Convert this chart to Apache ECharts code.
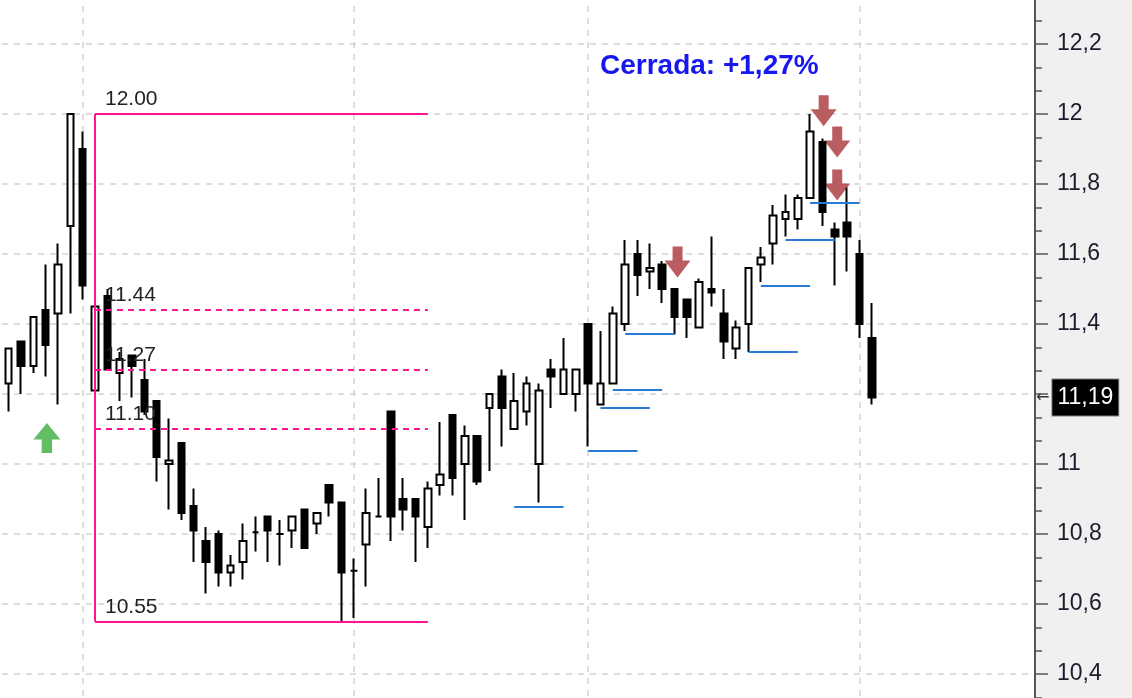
<!DOCTYPE html>
<html>
<head>
<meta charset="utf-8">
<script src="https://cdn.jsdelivr.net/npm/echarts@6/dist/echarts.min.js"></script>
<style>
  html, body { margin: 0; padding: 0; }
  /* zona blanca del gráfico + panel gris del eje */
  #chart { width: 1132px; height: 698px; background: linear-gradient(to right, #fff 0, #fff 1035px, #f0f0f0 1035px); }
</style>
</head>
<body>
<div id="chart"></div>
<script>
// velas diarias (posición = índice de la sesión)
const opens = [11.23, 11.35, 11.28, 11.44, 11.43, 11.68, 11.90, 11.21, 11.48, 11.26,
  11.31, 11.24, 11.18, 11.00, 11.06, 10.88, 10.78, 10.80, 10.69, 10.72,
  10.805, 10.85, 10.80, 10.81, 10.87, 10.83, 10.94, 10.89, 10.695, 10.77,
  10.85, 11.15, 10.90, 10.90, 10.82, 10.94, 11.14, 11.00, 11.08, 11.16,
  11.25, 11.10, 11.15, 11.00, 11.27, 11.20, 11.20, 11.40, 11.17, 11.23,
  11.40, 11.60, 11.55, 11.57, 11.50, 11.47, 11.39, 11.50, 11.43, 11.33,
  11.40, 11.57, 11.63, 11.70, 11.70, 11.76, 11.92, 11.67, 11.69, 11.60,
  11.36];
const closes = [11.33, 11.28, 11.42, 11.34, 11.57, 12.00, 11.51, 11.45, 11.27, 11.30,
  11.28, 11.15, 11.02, 11.01, 10.86, 10.81, 10.72, 10.69, 10.71, 10.78,
  10.805, 10.81, 10.80, 10.85, 10.76, 10.86, 10.89, 10.69, 10.695, 10.86,
  10.85, 10.85, 10.87, 10.85, 10.93, 10.97, 10.96, 11.08, 10.95, 11.20,
  11.16, 11.18, 11.23, 11.21, 11.25, 11.27, 11.27, 11.23, 11.23, 11.43,
  11.57, 11.54, 11.56, 11.50, 11.42, 11.42, 11.52, 11.49, 11.35, 11.39,
  11.56, 11.59, 11.71, 11.72, 11.76, 11.95, 11.72, 11.65, 11.65, 11.40,
  11.19];
const lows = [11.15, 11.20, 11.26, 11.25, 11.17, 11.43, 11.47, 11.21, 11.27, 11.18,
  11.19, 11.14, 10.95, 10.87, 10.84, 10.72, 10.63, 10.65, 10.65, 10.67,
  10.75, 10.72, 10.71, 10.76, 10.76, 10.80, 10.85, 10.55, 10.56, 10.65,
  10.85, 10.78, 10.81, 10.72, 10.76, 10.91, 10.91, 10.84, 10.94, 10.98,
  11.05, 11.10, 11.11, 10.89, 11.16, 11.20, 11.15, 11.05, 11.17, 11.23,
  11.38, 11.48, 11.50, 11.46, 11.37, 11.36, 11.39, 11.45, 11.30, 11.30,
  11.32, 11.52, 11.57, 11.65, 11.67, 11.76, 11.68, 11.51, 11.55, 11.36,
  11.17];
const highs = [11.33, 11.35, 11.42, 11.57, 11.63, 12.00, 11.95, 11.45, 11.50, 11.32,
  11.31, 11.30, 11.18, 11.13, 11.06, 10.93, 10.82, 10.81, 10.74, 10.83,
  10.85, 10.85, 10.84, 10.85, 10.87, 10.86, 10.94, 10.89, 10.73, 10.93,
  10.96, 11.15, 10.96, 10.90, 10.95, 11.12, 11.14, 11.11, 11.08, 11.20,
  11.27, 11.26, 11.25, 11.23, 11.30, 11.36, 11.27, 11.40, 11.38, 11.45,
  11.64, 11.64, 11.63, 11.58, 11.50, 11.47, 11.53, 11.65, 11.50, 11.41,
  11.56, 11.62, 11.74, 11.77, 11.77, 12.00, 11.93, 11.69, 11.79, 11.64,
  11.46];

// retroceso de Fibonacci
const fibFrom = 7;
const fibTo = 34;
const fibLevels = [12.00, 11.44, 11.27, 11.10, 10.55];
const fibTexts = ['12.00', '11.44', '11.27', '11.10', '10.55'];

// soportes (líneas azules)
const supportFrom = [41, 47, 48, 49, 50, 60, 61, 63, 65];
const supportTo = [45, 51, 52, 53, 54, 64, 65, 67, 69];
const supportLevel = [10.877, 11.037, 11.16, 11.211, 11.371, 11.32, 11.509, 11.64, 11.746];

// separadores verticales
const sessionLines = [6, 28, 47, 69];

// señales
const sellSignals = [[54.25, 11.577], [66.1, 12.009], [67.2, 11.92], [67.2, 11.797]];
const buySignals = [[3.1, 11.074]];

const lastClose = 11.19;
const closeNote = 'Cerrada: +1,27%';

const PINK = '#ff1493';
const BLUE = '#2a7bd6';
const FONT = '"Liberation Sans", Arial, sans-serif';
const ARROW_DOWN = 'path://M8,0L18,0L18,14L26,14L13,31L0,14L8,14Z';
const ARROW_UP = 'path://M13,0L26,17L18,17L18,31L8,31L8,17L0,17Z';

const candles = opens.map((o, i) => [i, o, closes[i], lows[i], highs[i]]);

const fibLines = fibLevels.map((lvl, i) => {
  const solid = i === 0 || i === fibLevels.length - 1;
  return [
    {
      coord: [fibFrom, lvl],
      lineStyle: { color: PINK, width: 2, type: solid ? 'solid' : [6, 5] },
      label: {
        show: true, position: 'insideStartTop', formatter: fibTexts[i],
        distance: [10, 4], color: '#222', fontSize: 21, fontFamily: FONT
      }
    },
    { coord: [fibTo, lvl] }
  ];
});
fibLines.push([
  { coord: [fibFrom, fibLevels[0]], lineStyle: { color: PINK, width: 2, type: 'solid' }, label: { show: false } },
  { coord: [fibFrom, fibLevels[fibLevels.length - 1]] }
]);

const supportLines = supportLevel.map((lvl, i) => [
  { coord: [supportFrom[i], lvl], lineStyle: { color: BLUE, width: 2, type: 'solid' }, label: { show: false } },
  { coord: [supportTo[i], lvl] }
]);

const priceTag = {
  yAxis: lastClose,
  lineStyle: { color: 'rgba(0,0,0,0)', width: 0 },
  label: {
    show: true, position: 'end', distance: 1,
    formatter: '{a|←}{b|' + lastClose.toFixed(2).replace('.', ',') + '}',
    rich: {
      a: { color: '#333', fontSize: 16, fontFamily: 'DejaVu Sans', padding: [0, 3, 0, 0] },
      b: {
        backgroundColor: '#000', borderColor: '#808080', borderWidth: 1,
        color: '#fff', fontSize: 23, fontFamily: FONT, lineHeight: 23, padding: [7, 5, 6, 5]
      }
    }
  }
};

const chart = echarts.init(document.getElementById('chart'));
chart.setOption({
  animation: false,
  grid: { left: 2, right: 97, top: -26, bottom: -46, containLabel: false, outerBoundsMode: 'none' },
  xAxis: { type: 'value', min: -0.54, max: 83.24, show: false, splitLine: { show: false } },
  yAxis: {
    type: 'value', position: 'right', min: 10.2, max: 12.4, interval: 0.2,
    axisLine: { show: true, onZero: false, lineStyle: { color: '#555', width: 2 } },
    axisTick: { show: true, length: 13, lineStyle: { color: '#555', width: 1.5 } },
    minorTick: { show: true, splitNumber: 3, length: 7, lineStyle: { color: '#555', width: 1.5 } },
    axisLabel: {
      margin: 22, fontSize: 23, fontFamily: FONT, color: '#1c1c2c',
      formatter: v => Math.abs(v - lastClose) < 0.05 ? '' : String(parseFloat(v.toFixed(2))).replace('.', ',')
    },
    splitLine: { show: true, lineStyle: { type: [6, 6], color: '#d3d3d3', width: 1.5 } }
  },
  graphic: [{
    type: 'text', left: 600, top: 52, silent: true,
    style: { text: closeNote, fill: '#1616f0', fontSize: 28, fontWeight: 'bold', fontFamily: FONT }
  }],
  series: [
    {
      // separadores verticales, detrás de las velas
      type: 'line', data: [], silent: true, clip: false,
      markLine: {
        z: 1, silent: true, symbol: ['none', 'none'], label: { show: false },
        lineStyle: { type: [6, 6], color: '#d3d3d3', width: 1.5 },
        data: sessionLines.map(i => ({ xAxis: i }))
      }
    },
    {
      type: 'scatter', z: 2, silent: true,
      symbol: ARROW_DOWN, symbolSize: [26, 31],
      itemStyle: { color: '#b0474b', opacity: 0.88 },
      data: sellSignals
    },
    {
      type: 'scatter', z: 2, silent: true,
      symbol: ARROW_UP, symbolSize: [27, 30],
      itemStyle: { color: '#3cae3c' },
      data: buySignals
    },
    {
      type: 'candlestick', z: 3, silent: true, clip: false,
      barWidth: 7,
      encode: { x: 0, y: [1, 2, 3, 4] },
      itemStyle: {
        color: '#fff', color0: '#000',
        borderColor: '#000', borderColor0: '#000', borderColorDoji: '#000',
        borderWidth: 2
      },
      data: candles
    },
    {
      // fibonacci, soportes y precio actual
      type: 'line', data: [], silent: true, clip: false,
      markLine: {
        z: 5, silent: true, symbol: ['none', 'none'], label: { show: false },
        data: fibLines.concat(supportLines, [priceTag])
      }
    }
  ]
});
</script>
</body>
</html>
